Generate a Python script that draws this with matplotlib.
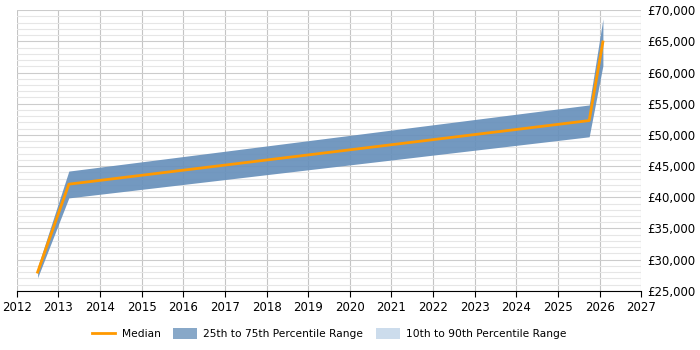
import matplotlib.pyplot as plt
from matplotlib.patches import Patch
from matplotlib.lines import Line2D
from matplotlib.ticker import MultipleLocator, FuncFormatter

# Data
annees = [2012.5, 2013.25, 2025.75, 2026.08]
mediane = [28000, 42100, 52300, 64900]
p25 = [27100, 39900, 49700, 61100]
p75 = [28800, 44200, 54800, 68600]

couleur_bande = '#6790bb'
couleur_mediane = '#ff9900'

fig = plt.figure(figsize=(7, 3.5), dpi=100)
ax = fig.add_axes([0.024, 0.169, 0.892, 0.802])

ax.fill_between(annees, p25, p75, color=couleur_bande, alpha=0.92, linewidth=0, zorder=2)
ax.plot(annees, mediane, color=couleur_mediane, linewidth=2, zorder=3)

ax.set_xlim(2012, 2027)
ax.set_ylim(25000, 70000)
ax.xaxis.set_major_locator(MultipleLocator(1))
ax.yaxis.set_major_locator(MultipleLocator(5000))
ax.yaxis.set_minor_locator(MultipleLocator(1000))
ax.yaxis.set_major_formatter(FuncFormatter(lambda v, p: f"£{int(v):,}"))
ax.yaxis.tick_right()

ax.grid(axis='x', which='major', color='#c4c4c4', linewidth=0.8, zorder=0)
ax.grid(axis='y', which='major', color='#cccccc', linewidth=0.8, zorder=0)
ax.grid(axis='y', which='minor', color='#e6e6e6', linewidth=0.8, zorder=0)
ax.set_axisbelow(True)

for cote in ['top', 'left', 'right']:
    ax.spines[cote].set_visible(False)
ax.spines['bottom'].set_color('black')
ax.tick_params(axis='y', which='both', length=0, labelsize=8.5, pad=4)
ax.tick_params(axis='x', length=4, labelsize=8.5)

elements = [
    Line2D([0], [0], color=couleur_mediane, linewidth=2, label='Median'),
    Patch(facecolor='#88a8c8', label='25th to 75th Percentile Range'),
    Patch(facecolor='#ccdcec', label='10th to 90th Percentile Range'),
]
fig.legend(handles=elements, loc='center', bbox_to_anchor=(0.47, 0.047), ncol=3,
           frameon=False, fontsize=7.7, handlelength=2.2, handleheight=1.2,
           handletextpad=0.6, columnspacing=1.2)

fig.savefig('out.png')
